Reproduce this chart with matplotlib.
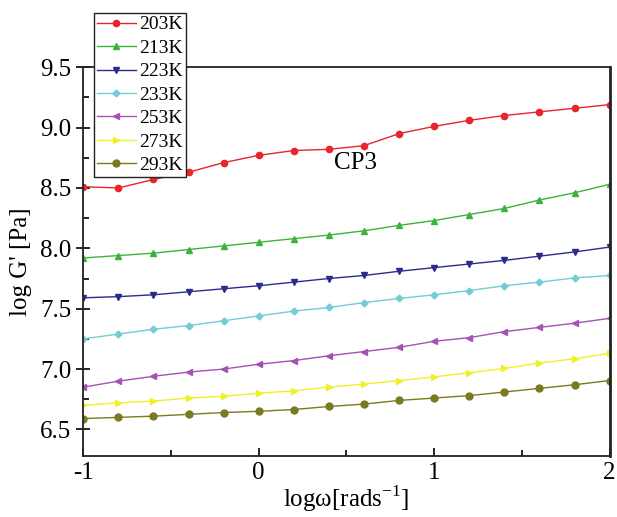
import matplotlib
matplotlib.use('Agg')
import matplotlib.pyplot as plt
import numpy as np
from matplotlib.ticker import MultipleLocator

plt.rcParams['font.family'] = ['Liberation Serif', 'DejaVu Serif']
plt.rcParams['mathtext.fontset'] = 'custom'
plt.rcParams['mathtext.rm'] = 'Liberation Serif'

log_w = [-1.0, -0.8, -0.6, -0.4, -0.2, 0.0, 0.2, 0.4, 0.6, 0.8, 1.0, 1.2, 1.4, 1.6, 1.8, 2.0]

g_203 = [8.51, 8.50, 8.57, 8.63, 8.71, 8.77, 8.81, 8.82, 8.85, 8.95, 9.01, 9.06, 9.10, 9.13, 9.16, 9.19]
g_213 = [7.92, 7.94, 7.96, 7.99, 8.02, 8.05, 8.08, 8.11, 8.145, 8.19, 8.23, 8.28, 8.33, 8.40, 8.46, 8.53]
g_223 = [7.59, 7.60, 7.615, 7.64, 7.665, 7.69, 7.72, 7.75, 7.775, 7.81, 7.84, 7.87, 7.90, 7.935, 7.97, 8.01]
g_233 = [7.25, 7.29, 7.33, 7.36, 7.40, 7.44, 7.48, 7.51, 7.55, 7.585, 7.615, 7.65, 7.69, 7.72, 7.755, 7.775]
g_253 = [6.85, 6.90, 6.94, 6.975, 7.00, 7.04, 7.07, 7.11, 7.145, 7.18, 7.23, 7.26, 7.31, 7.345, 7.38, 7.42]
g_273 = [6.70, 6.72, 6.735, 6.76, 6.775, 6.80, 6.82, 6.85, 6.875, 6.905, 6.935, 6.97, 7.005, 7.05, 7.085, 7.13]
g_293 = [6.59, 6.60, 6.61, 6.625, 6.64, 6.65, 6.665, 6.69, 6.71, 6.74, 6.76, 6.78, 6.81, 6.84, 6.87, 6.905]

labels = ['203K', '213K', '223K', '233K', '253K', '273K', '293K']
series = [g_203, g_213, g_223, g_233, g_253, g_273, g_293]
colors = ['#e8242c', '#3cb43c', '#2c2c8c', '#74ccd4', '#a452b4', '#f2ee28', '#7a7a22']
markers = ['o', '^', 'v', 'D', '<', '>', 'o']
msizes = [4.5, 4.5, 4.5, 3.5, 4.5, 4.5, 5]

fig = plt.figure(figsize=(6.17, 5.17), dpi=100)
ax = fig.add_axes([0.135, 0.118, 0.853, 0.752])

for y, lab, c, m, ms in zip(series, labels, colors, markers, msizes):
    ax.plot(log_w, y, color=c, marker=m, markersize=ms, linewidth=1.0, label=lab)

ax.set_xlim(-1, 2)
ax.set_ylim(6.28, 9.5)
ax.xaxis.set_minor_locator(MultipleLocator(0.5))
ax.yaxis.set_minor_locator(MultipleLocator(0.25))
ax.set_xticks([-1, 0, 1, 2])
ax.set_xticklabels(['-1', '0', '1', '2'], fontsize=18)
ax.set_yticks([6.5, 7.0, 7.5, 8.0, 8.5, 9.0, 9.5])
ax.set_yticklabels(['6.5', '7.0', '7.5', '8.0', '8.5', '9.0', '9.5'], fontsize=18)
ax.tick_params(axis='x', which='major', direction='in', length=6, width=1.2, pad=4)
ax.tick_params(axis='x', which='minor', direction='in', length=4, width=1.2)
ax.tick_params(axis='y', which='major', direction='inout', length=10, width=1.2)
ax.tick_params(axis='y', which='minor', direction='in', length=4, width=1.2)
for s in ax.spines.values():
    s.set_linewidth(1.3)
    s.set_color('#222222')
ax.spines['right'].set_linewidth(2.0)

ax.set_xlabel('log\u03c9[rads$^{-1}$]', fontsize=18, labelpad=0)
ax.set_ylabel("log G' [Pa]", fontsize=18, labelpad=6)
ax.text(0.55, 8.71, 'CP3', fontsize=18, ha='center', va='center')

fig.legend(loc='upper left', bbox_to_anchor=(0.152, 0.975), fontsize=14,
           frameon=True, fancybox=False, edgecolor='#222222', framealpha=1,
           handlelength=2.0, handletextpad=0.2, labelspacing=0.3,
           borderpad=0.15, borderaxespad=0)

fig.savefig('out.png', dpi=100)
